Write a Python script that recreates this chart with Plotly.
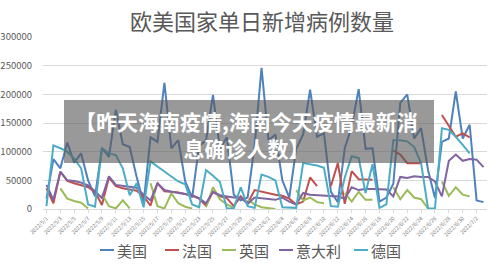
import datetime as dt
import plotly.graph_objects as go

start = dt.date(2022, 5, 1)
dates = [f"{d.year}/{d.month}/{d.day}" for d in (start + dt.timedelta(days=i) for i in range(64))]
tick_labels = dates[::2]

K = 1000
N = None
usa = [18, 87, 71, 116, 81, 97, 50, 22, 106, 91, 173, 113, 108, 56, 10, 125, 117, 220, 106, 120,
       48, 20, 110, 120, 199, 105, 125, 25, 15, 20, 110, 246, 120, 130, 50, 20, 105, 130, 208, 126,
       132, 30, 12, 106, 144, 209, 105, 106, 13, 20, 44, 185, 200, 123, 141, 68, 19, 117, 123, 205,
       123, 147, 15, 12]
france = [36, 10, 65, 49, 45, 42, 38, 30, 7, 55, 40, 36, 34, 32, 22, 6, 45, 31, 30, 29,
          26, 23, 18, 6, 30, 22, 19, 5, 22, 10, 33, 30, 27, 25, 23, 18, 8, 13, 55, 40,
          N, 40, 80, 9, 66, 52, 51, 51, N, N, 102, 95, 80, 80, 80, N, N, 164, 144, 126,
          132, 125, N, N]
uk = [N, N, 36, 18, 14, 11, 1, N, 26, 5, 1, 15, 1, N, N, 45, 5, 1, 27, 10,
      4, 1, N, 3, 38, 17, 8, 2, N, 16, 8, 3, 1, 0, N, N, 33, 15, 20, 12,
      10, N, N, 28, 13, 30, 16, 16, N, N, 38, 17, 33, 20, 17, 1, N, 48, 23, 38,
      25, 22, N, N]
italy = [42, 16, 65, 50, 49, 46, 41, 31, 19, 57, 42, 40, 38, 37, 25, 15, 45, 33, 30, 28,
         26, 24, 19, 10, 30, 24, 22, 20, 20, 9, 20, 19, 18, 16, 20, 13, 8, 28, 25, 24,
         23, 22, 22, 18, 38, 33, 35, 35, 34, 34, 22, 56, 54, 57, 56, 56, 48, 22, 84, 95,
         84, 87, 86, 73]
germany = [5, 111, 106, 100, 88, 71, 8, 4, 106, 97, 94, 71, 24, 45, 3, 83, 74, 65, 56, 48,
           43, 8, 3, 68, 58, 47, 1, 1, 38, 5, 2, 60, 56, 50, 3, 2, 2, 80, 78, 76,
           72, 5, 4, 55, 92, 89, 28, 78, 2, 8, 120, 120, 118, 108, 80, 1, 1, 141, 138, 126,
           112, 97, N, N]

series = [
    ("美国", usa, "#4F81BD"),
    ("法国", france, "#C0504D"),
    ("英国", uk, "#9BBB59"),
    ("意大利", italy, "#8064A2"),
    ("德国", germany, "#4BACC6"),
]

L, R, T, B = 43, 13, 37, 55
W, H = 500, 264
pw, ph = W - L - R, H - T - B

def px(x):
    return (x - L) / pw

def py(y):
    return (H - B - y) / ph

fig = go.Figure()
for name, vals, color in series:
    fig.add_trace(go.Scatter(
        x=dates, y=[v * K if v is not None else None for v in vals],
        mode="lines", name=name, connectgaps=False, showlegend=False,
        line=dict(color=color, width=2),
    ))

# legend drawn as short line samples + labels (Excel style)
legend_x = [100, 165, 222, 279, 354]
shapes = []
annotations = []
for (name, _, color), lx in zip(series, legend_x):
    shapes.append(dict(type="line", xref="paper", yref="paper",
                       x0=px(lx), x1=px(lx + 14), y0=py(250), y1=py(250),
                       line=dict(color=color, width=2)))
    annotations.append(dict(text=name, xref="paper", yref="paper",
                            x=px(lx + 15), y=py(250), xanchor="left", yanchor="middle",
                            showarrow=False,
                            font=dict(size=15, color="#595959", family="Noto Sans CJK SC")))

shapes.append(dict(type="rect", xref="paper", yref="paper",
                   x0=px(64), x1=px(434), y0=py(163), y1=py(100),
                   fillcolor="rgba(90,90,90,0.62)", line=dict(width=0), layer="above"))
annotations.append(dict(text="<b>【昨天海南疫情,海南今天疫情最新消<br>息确诊人数】</b>",
                        xref="paper", yref="paper", align="center",
                        x=px(246), y=py(134), xanchor="center", yanchor="middle",
                        showarrow=False,
                        font=dict(size=21, color="white", family="Noto Sans CJK SC")))

fig.update_layout(
    width=W, height=H,
    margin=dict(l=L, r=R, t=T, b=B, autoexpand=False),
    paper_bgcolor="white", plot_bgcolor="white",
    font=dict(family="Noto Sans CJK SC", color="#595959"),
    showlegend=False,
    title=dict(text="欧美国家单日新增病例数量", x=262 / W, xanchor="center",
               y=1 - 22 / H, yanchor="middle",
               font=dict(size=22, color="#595959", family="Noto Sans CJK SC")),
    xaxis=dict(type="category", categoryorder="array", categoryarray=dates,
               range=[-0.5, 63.5], tickmode="array", tickvals=tick_labels, ticktext=tick_labels,
               tickangle=-45, tickfont=dict(size=5.5, color="#7f7f7f"), automargin=False,
               showgrid=False, showline=True, linecolor="#D9D9D9", linewidth=1,
               ticks="outside", ticklen=3, tickcolor="#D9D9D9"),
    yaxis=dict(range=[0, 300000], dtick=50000, tickformat="d", automargin=False,
               tickfont=dict(size=9.5, color="#595959"),
               showgrid=True, gridcolor="#D9D9D9", gridwidth=1,
               zeroline=False, showline=False, ticklabelstandoff=10),
    shapes=shapes,
    annotations=annotations,
)

fig.write_html("out.html")
